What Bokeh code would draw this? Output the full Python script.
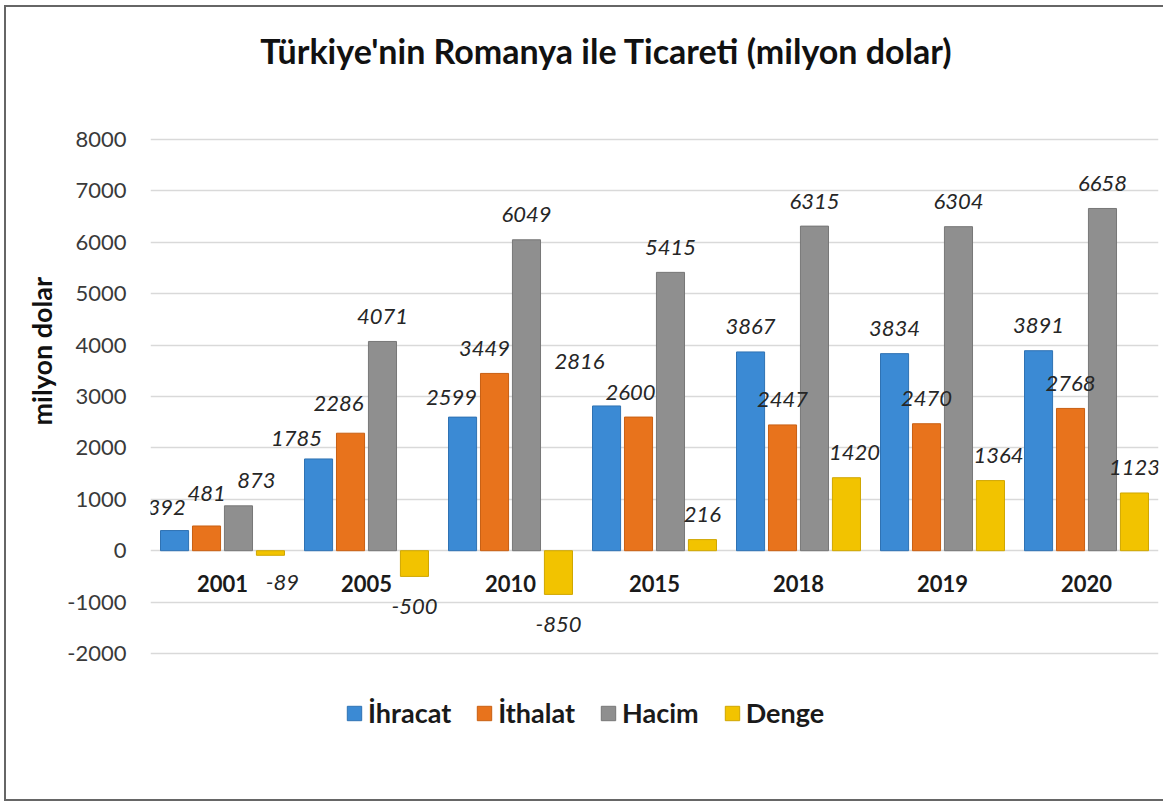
import math
from bokeh.plotting import figure
from bokeh.models import (FactorRange, Range1d, FixedTicker, Label, LabelSet,
                          Legend, LegendItem, ColumnDataSource, Title)
from bokeh.core.properties import value
from bokeh.transform import dodge
from bokeh.embed import file_html
from bokeh.resources import INLINE

# ---- data ----
years = ["2001", "2005", "2010", "2015", "2018", "2019", "2020"]
ihracat = [392, 1785, 2599, 2816, 3867, 3834, 3891]
ithalat = [481, 2286, 3449, 2600, 2447, 2470, 2768]
hacim = [873, 4071, 6049, 5415, 6315, 6304, 6658]
denge = [-89, -500, -850, 216, 1420, 1364, 1123]
series_names = ["İhracat", "İthalat", "Hacim", "Denge"]
y_ticks = [-2000, -1000, 0, 1000, 2000, 3000, 4000, 5000, 6000, 7000, 8000]
y_tick_labels = ["-2000", "-1000", "0", "1000", "2000", "3000", "4000", "5000",
                 "6000", "7000", "8000"]
title_text = "Türkiye'nin Romanya ile Ticareti (milyon dolar)"
y_label_text = "milyon dolar"

# ---- style ----
colors = ["#3b8ad4", "#e8731c", "#8f8f8f", "#f2c300"]
edge_colors = ["#2f72b3", "#c85f12", "#777777", "#cfa600"]
offsets = [-0.333, -0.111, 0.111, 0.333]
bar_w = 0.195
FONT = "Lato"
# manual label nudges (pixels) as in the reference
nudges = {
    (0, "2001"): (-8, -2), (1, "2001"): (0, 7), (2, "2001"): (18, 0), (3, "2001"): (12, 3),
    (0, "2005"): (-22, -5), (1, "2005"): (-12, 5),
    (0, "2010"): (-11, -5), (1, "2010"): (-10, 0),
    (0, "2015"): (-27, 19), (1, "2015"): (-8, 0),
    (3, "2018"): (8, 0), (3, "2019"): (8, 0),
}

# plot frame spans the full canvas height; the visible value scale is -2000..8000
p = figure(width=1159, height=796, x_range=FactorRange(*years),
           y_range=Range1d(-4918, 10568), output_backend="svg",
           toolbar_location=None, min_border_left=144, min_border_right=7,
           min_border_top=0, min_border_bottom=0)
p.styles = {"margin-left": "4px", "margin-top": "5px",
            "border-left": "2px solid #666666", "border-top": "2px solid #666666",
            "border-bottom": "2px solid #666666"}
p.outline_line_color = None
p.background_fill_color = "white"
p.border_fill_color = "white"
p.x_range.range_padding = 0

p.xgrid.grid_line_color = None
p.ygrid.grid_line_color = "#d9d9d9"
p.ygrid.grid_line_width = 1.5
p.ygrid.ticker = FixedTicker(ticks=y_ticks)

p.yaxis.ticker = FixedTicker(ticks=y_ticks)
p.yaxis.major_label_overrides = dict(zip(y_ticks, y_tick_labels))
p.yaxis.axis_line_color = None
p.yaxis.major_tick_line_color = None
p.yaxis.minor_tick_line_color = None
p.yaxis.major_tick_out = 0
p.yaxis.major_tick_in = 0
p.yaxis.major_label_standoff = 24
p.yaxis.major_label_text_font = FONT
p.yaxis.major_label_text_font_size = "22px"
p.yaxis.major_label_text_color = "#3a3a3a"

p.xaxis.fixed_location = 0
p.xaxis.axis_line_color = None
p.xaxis.major_tick_line_color = None
p.xaxis.minor_tick_line_color = None
p.xaxis.major_label_standoff = 18
p.xaxis.major_label_text_font = FONT
p.xaxis.major_label_text_font_style = "bold"
p.xaxis.major_label_text_font_size = "22px"
p.xaxis.major_label_text_color = "#1a1a1a"

series_vals = [ihracat, ithalat, hacim, denge]
items = []
for i, (name, vals) in enumerate(zip(series_names, series_vals)):
    dx, dy = [], []
    for y, v in zip(years, vals):
        nx, ny = nudges.get((i, y), (0, 0))
        dx.append(nx)
        dy.append((25 if v >= 0 else -30) + ny)
    src = ColumnDataSource(dict(year=years, val=vals, txt=[str(v) for v in vals],
                                dx=dx, dy=dy))
    r = p.vbar(x=dodge("year", offsets[i], range=p.x_range), top="val", bottom=0,
               width=bar_w, source=src, fill_color=colors[i],
               line_color=edge_colors[i], line_width=1)
    items.append(LegendItem(label=name, renderers=[r]))
    ls = LabelSet(x=dodge("year", offsets[i], range=p.x_range), y="val", text="txt",
                  x_offset="dx", y_offset="dy", source=src, text_align="center",
                  text_baseline="middle", text_font=value(FONT),
                  text_font_style="italic", text_font_size="22px",
                  text_color="#262626")
    p.add_layout(ls)

legend = Legend(items=items, orientation="horizontal", location=(195, 74),
                label_text_font=FONT, label_text_font_style="bold",
                label_text_font_size="27px", label_text_color="#1a1a1a",
                glyph_width=18, glyph_height=18, label_standoff=5, spacing=24,
                padding=0, margin=0, border_line_color=None,
                background_fill_alpha=0)
p.add_layout(legend)

p.add_layout(Label(x=456, y=753, x_units="screen", y_units="screen", text=title_text,
                   text_align="center", text_baseline="middle", text_font=FONT,
                   text_font_style="bold", text_font_size="34px", text_color="#111111"))

ylab = Title(text=y_label_text, align="left", offset=378, vertical_align="bottom",
             standoff=14, text_font=FONT, text_font_style="bold",
             text_font_size="27px", text_color="#111111")
p.add_layout(ylab, "left")

open("out.html", "w").write(file_html(p, INLINE))
